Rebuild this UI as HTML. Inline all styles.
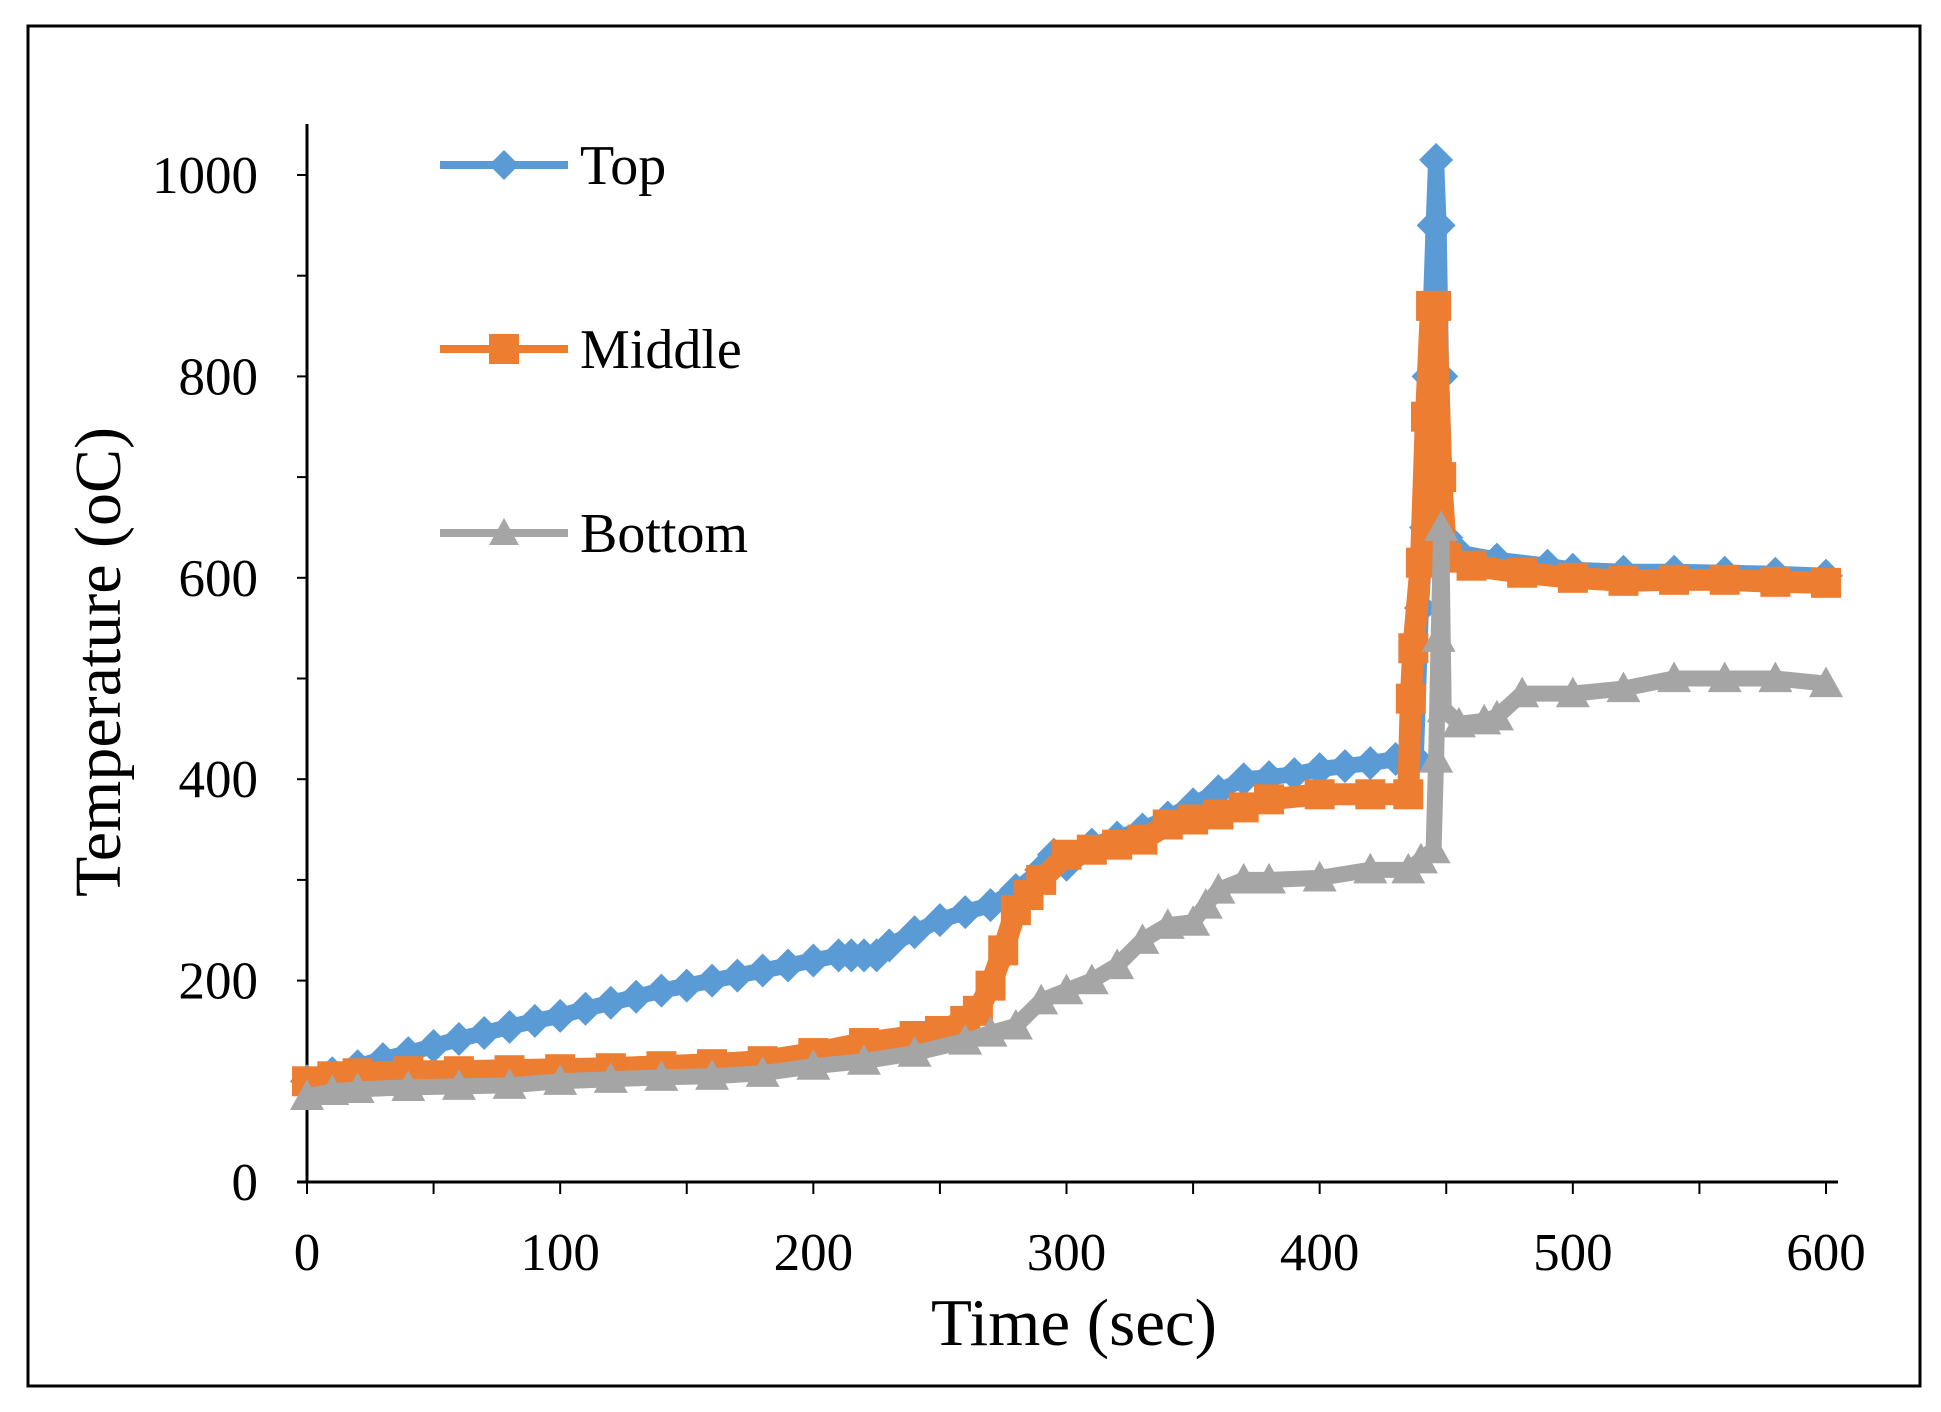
<!DOCTYPE html>
<html><head><meta charset="utf-8"><style>
html,body{margin:0;padding:0;background:#fff;}
svg{display:block;}
text{font-family:"Liberation Serif",serif;fill:#000;}
</style></head><body>
<svg id="chart" width="1941" height="1412" viewBox="0 0 1941 1412">
<rect x="28" y="26" width="1892" height="1360" fill="#fff" stroke="#000" stroke-width="3"/>
<g id="axes"></g>
<g id="series"></g>
<text x="1074" y="1345" font-size="67" text-anchor="middle">Time (sec)</text>
<text transform="translate(120,662) rotate(-90)" font-size="66" text-anchor="middle">Temperature (oC)</text>
<g id="legend"></g>
</svg>
<script>
const xTicks=[0,100,200,300,400,500,600];
const yTicks=[0,200,400,600,800,1000];
const topT=[0,10,20,30,40,50,60,70,80,90,100,110,120,130,140,150,160,170,180,190,200,210,215,220,225,230,240,250,260,270,280,290,295,300,310,320,330,340,350,360,370,380,390,400,410,420,430,438,440,442,443,445,446,447,448,450,455,470,490,500,520,540,560,580,600];
const topV=[100,108,115,122,128,135,142,148,154,160,165,172,178,184,190,195,200,205,210,215,220,225,225,225,225,235,248,260,268,275,290,310,325,315,335,342,350,362,375,388,400,402,405,410,413,416,420,420,570,650,800,950,1015,950,800,640,625,618,612,608,606,606,605,604,602];
const midT=[0,10,20,40,60,80,100,120,140,160,180,200,220,240,250,260,265,270,275,280,285,290,300,310,320,330,340,350,360,370,380,400,420,435,436,437,440,442,444,446,448,450,460,480,500,520,540,560,580,600];
const midV=[100,105,108,110,110,111,112,113,115,117,120,128,138,145,150,160,170,195,230,270,285,300,325,330,335,340,355,360,365,372,380,385,385,385,480,530,615,760,870,870,700,620,612,605,600,597,598,598,596,595];
const botT=[0,10,20,40,60,80,100,120,140,160,180,200,220,240,260,270,280,290,300,310,320,330,340,350,355,360,370,380,400,420,435,440,445,446,447,448,449,455,465,470,480,500,520,540,560,580,600];
const botV=[85,90,92,94,95,96,100,102,104,105,108,115,120,128,140,148,155,180,190,200,215,240,255,258,275,290,300,300,302,310,310,320,330,420,540,650,470,455,458,462,485,485,490,500,500,500,495];

const X0=307,X1=1826,Y0=1182,Y1=175;
const xs=v=>X0+(v/600)*(X1-X0);
const ys=v=>Y0-(v/1000)*(Y0-Y1);
const NS="http://www.w3.org/2000/svg";
function mk(tag,attrs,parent){const e=document.createElementNS(NS,tag);for(const k in attrs)e.setAttribute(k,attrs[k]);parent.appendChild(e);return e;}
const axes=document.getElementById('axes');
let l=mk('line',{x1:X0,y1:124,x2:X0,y2:Y0,stroke:'#000','stroke-width':3},axes);


l=mk('line',{x1:X0-10,y1:Y0,x2:1838,y2:Y0,stroke:'#000','stroke-width':3},axes);


for(let v=0;v<=1000;v+=100){const t=mk('line',{x1:X0-10,y1:ys(v),x2:X0,y2:ys(v),stroke:'#000','stroke-width':2},axes);

}
for(let v=0;v<=600;v+=50){const t=mk('line',{x1:xs(v),y1:Y0,x2:xs(v),y2:Y0+12,stroke:'#000','stroke-width':2},axes);

}
xTicks.forEach(v=>{const t=mk('text',{x:xs(v),y:1270,'font-size':53,'text-anchor':'middle'},axes);t.textContent=v;

});
yTicks.forEach(v=>{const t=mk('text',{x:258,y:ys(v)+18,'font-size':53,'text-anchor':'end'},axes);t.textContent=v;

});

function marker(g,type,x,y,color,s){
 if(type==='d')return mk('polygon',{points:`${x},${y-s} ${x+s},${y} ${x},${y+s} ${x-s},${y}`,fill:color},g);
 if(type==='s')return mk('rect',{x:x-s,y:y-s,width:2*s,height:2*s,fill:color},g);
 return mk('polygon',{points:`${x},${y-s} ${x+s},${y+s*0.8} ${x-s},${y+s*0.8}`,fill:color},g);
}
const ser=document.getElementById('series');
function drawSeries(name,T,V,color,type,s,w){
 const g=mk('g',{},ser);
 
 
 const p=mk('polyline',{points:T.map((t,i)=>xs(t)+','+ys(V[i])).join(' '),fill:'none',stroke:color,'stroke-width':w,'stroke-linejoin':'round'},g);
 
 
 T.forEach((t,i)=>{const m=marker(g,type,xs(t),ys(V[i]),color,s);
 
 });
}
drawSeries('top',topT,topV,'#5b9bd5','d',17,16);
drawSeries('middle',midT,midV,'#ed7d31','s',15,22);
drawSeries('bottom',botT,botV,'#a5a5a5','t',17,16);

const lg=document.getElementById('legend');
const legendItems=[['Top','#5b9bd5','d',165],['Middle','#ed7d31','s',349],['Bottom','#a5a5a5','t',533]];
legendItems.forEach(([lab,c,tp,y])=>{
 const g=mk('g',{},lg);
 
 
 mk('line',{x1:440,y1:y,x2:568,y2:y,stroke:c,'stroke-width':8},g);
 marker(g,tp,504,y,c,15);
 const t=mk('text',{x:580,y:y+19,'font-size':56},g);t.textContent=lab;
});
</script>
</body></html>
